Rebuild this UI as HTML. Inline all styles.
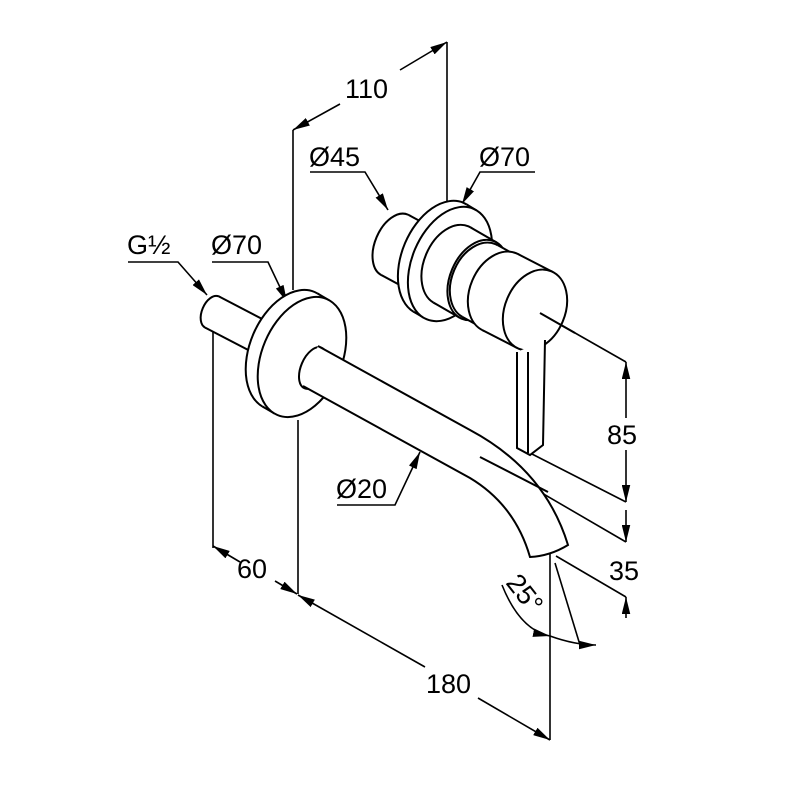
<!DOCTYPE html>
<html><head><meta charset="utf-8"><style>
html,body{margin:0;padding:0;background:#fff;}
svg{display:block;}
text{font-family:"Liberation Sans",Arial,sans-serif;font-size:27px;fill:#000;}
</style></head><body>
<svg id="s" width="800" height="800" viewBox="0 0 800 800" xmlns="http://www.w3.org/2000/svg">
<defs>
<marker id="a" viewBox="0 0 10 5" refX="10" refY="2.5" markerWidth="17" markerHeight="8.5" markerUnits="userSpaceOnUse" orient="auto-start-reverse"><path d="M0,0 L10,2.5 L0,5 z" fill="#000"/></marker>
</defs>
<g fill="none" stroke="#000" stroke-width="1.6">
<line x1="293" y1="130" x2="293" y2="290"/>
<line x1="447" y1="42" x2="447" y2="205"/>
<line x1="213" y1="330" x2="213" y2="548"/>
<line x1="298" y1="420" x2="298" y2="594"/>
<line x1="550" y1="553" x2="550" y2="740"/>
<line x1="540" y1="313" x2="626" y2="362"/>
<line x1="530" y1="453" x2="626" y2="502"/>
<line x1="480" y1="457" x2="626" y2="542"/>
<line x1="556" y1="556" x2="626" y2="597"/>
<line x1="555" y1="563" x2="580" y2="645"/>
<line x1="293" y1="130" x2="340" y2="104" marker-start="url(#a)"/>
<line x1="400" y1="70" x2="447" y2="42" marker-end="url(#a)"/>
<line x1="626" y1="362" x2="626" y2="418" marker-start="url(#a)"/>
<line x1="626" y1="450" x2="626" y2="502" marker-end="url(#a)"/>
<line x1="626" y1="510" x2="626" y2="542" marker-end="url(#a)"/>
<line x1="626" y1="618" x2="626" y2="597" marker-end="url(#a)"/>
<line x1="240" y1="562" x2="213" y2="546" marker-end="url(#a)"/>
<line x1="275" y1="581" x2="297" y2="594" marker-end="url(#a)"/>
<line x1="425" y1="667" x2="298" y2="595" marker-end="url(#a)"/>
<line x1="478" y1="698" x2="550" y2="740" marker-end="url(#a)"/>
<path d="M502,585 Q520,630 550,636" marker-end="url(#a)"/>
<path d="M550,636 Q575,645 596,645" marker-end="url(#a)"/>
<polyline points="310,172 365,172 388,210" marker-end="url(#a)"/>
<polyline points="535,172 480,172 462,204" marker-end="url(#a)"/>
<polyline points="128,262 178,262 207,295" marker-end="url(#a)"/>
<polyline points="212,262 268,262 287,302" marker-end="url(#a)"/>
<polyline points="337,505 395,505 420,452" marker-end="url(#a)"/>
</g>
<g id="parts" fill="#fff" stroke="#000" stroke-width="2"></g>
<text x="345" y="98">110</text>
<text x="309" y="166">Ø45</text>
<text x="479" y="166">Ø70</text>
<text x="127" y="254">G½</text>
<text x="211" y="254">Ø70</text>
<text x="336" y="498">Ø20</text>
<text x="607" y="444">85</text>
<text x="609" y="580">35</text>
<text x="237" y="578">60</text>
<text x="426" y="693">180</text>
<text x="0" y="0" transform="translate(505,583) rotate(52)">25°</text>
</svg>
<script>
var g=document.getElementById('parts'),NS='http://www.w3.org/2000/svg',ROT=23;
function el(t,at){var e=document.createElementNS(NS,t);for(var k in at)e.setAttribute(k,at[k]);g.appendChild(e);return e;}
function ell(cx,cy,rx,ry){el('ellipse',{cx:cx,cy:cy,rx:rx,ry:ry,transform:'rotate('+ROT+' '+cx+' '+cy+')'});}
function tp(cx,cy,rx,ry,dx,dy){var r=ROT*Math.PI/180,c=Math.cos(r),s=Math.sin(r);
 var a=c*dx+s*dy,b=-s*dx+c*dy;var t=Math.atan2(-ry*a,rx*b);var res=[];
 [t,t+Math.PI].forEach(function(u){var x=rx*Math.cos(u),y=ry*Math.sin(u);res.push([cx+c*x-s*y,cy+s*x+c*y]);});return res;}
function cyl(x1,y1,x2,y2,rx,ry,front){
 ell(x1,y1,rx,ry);var d=[x2-x1,y2-y1];var p=tp(x1,y1,rx,ry,d[0],d[1]);
 var q=[[p[0][0]+d[0],p[0][1]+d[1]],[p[1][0]+d[0],p[1][1]+d[1]]];
 el('polygon',{points:[p[0],q[0],q[1],p[1]].join(' '),stroke:'none'});
 el('line',{x1:p[0][0],y1:p[0][1],x2:q[0][0],y2:q[0][1]});
 el('line',{x1:p[1][0],y1:p[1][1],x2:q[1][0],y2:q[1][1]});
 if(front!==false)ell(x2,y2,rx,ry);}
cyl(395,245,432,265,20,33);
cyl(440,258,450,264,38,60);
cyl(452,265,478,280,28,42);
cyl(480,281,500,292,28,40);
cyl(500,292,535,310,30,42);
el('path',{d:'M517,352 L517,448 L530,455 L543,445 L545,340'});
el('line',{x1:528,y1:352,x2:528,y2:453});
el('line',{x1:540,y1:313,x2:575,y2:333});
cyl(212,312,285,350,10,17,false);
cyl(290,350,302,357,40,63);
ell(313,368,12,22);
el('path',{d:'M318,346 L470,430 Q545,470 568,545 Q550,556 530,557 Q515,505 470,478 L303,386'});
el('line',{x1:480,y1:457,x2:548,y2:492});
</script>
</body></html>
